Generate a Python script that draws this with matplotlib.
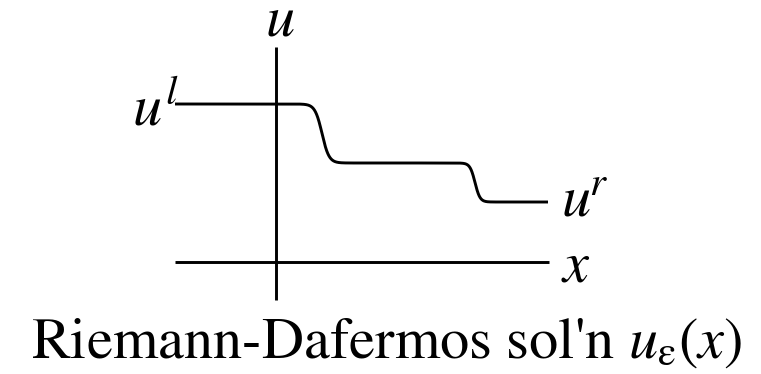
import numpy as np
import matplotlib
matplotlib.use("Agg")
import matplotlib.pyplot as plt

plt.rcParams["mathtext.fontset"] = "stix"
plt.rcParams["font.family"] = ["STIXGeneral", "DejaVu Serif"]

# States of the Riemann problem and the smoothed shock profile
u_left = 1.58
u_mid = 0.99
u_right = 0.60
shock_pos = [0.46, 1.99]
shock_width = [0.07, 0.05]
x_range = [-1.01, 2.72]

# Axes extents
x_axis = [-1.01, 2.73]
u_axis = [-0.38, 2.15]

fig = plt.figure(figsize=(7.61, 3.74), dpi=100)
ax = fig.add_axes([0, 0, 1, 1])
ax.set_xlim(-2.76, 4.85)
ax.set_ylim(-1.12, 2.62)
ax.axis("off")

x = np.linspace(x_range[0], x_range[1], 2000)
levels = [u_left, u_mid, u_right]
u = np.full_like(x, u_left)
for k, (s, w) in enumerate(zip(shock_pos, shock_width)):
    u += (levels[k + 1] - levels[k]) * 0.5 * (1 + np.tanh((x - s) / w))

lw = 2.1
ax.plot(x_axis, [0, 0], color="black", lw=lw, solid_capstyle="butt")
ax.plot([0, 0], u_axis, color="black", lw=lw, solid_capstyle="butt")
ax.plot(x, u, color="black", lw=lw, solid_capstyle="butt")

fs = 42
ax.text(0.04, 2.27, r"$u$", fontsize=fs, ha="center", va="baseline")
ax.text(-0.98, 1.37, r"$u^l$", fontsize=fs, ha="right", va="baseline")
ax.text(2.85, 0.47, r"$u^{\!r}$", fontsize=fs, ha="left", va="baseline")
ax.text(2.85, -0.20, r"$x$", fontsize=fs, ha="left", va="baseline")
ax.text(1.11, -0.96, r"Riemann-Dafermos sol'n $u_{\mathrm{\varepsilon}}(x)$",
        fontsize=42, ha="center", va="baseline")

fig.savefig("out.png", dpi=100)
